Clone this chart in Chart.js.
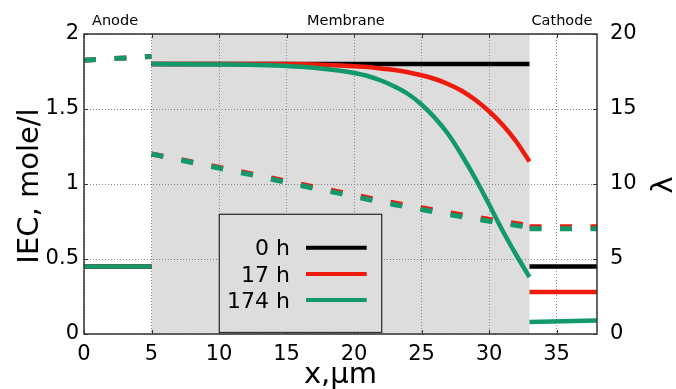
<!DOCTYPE html>
<html>
<head>
<meta charset="utf-8">
<script src="https://cdn.jsdelivr.net/npm/chart.js@4.4.1/dist/chart.umd.min.js"></script>
<style>
  html, body { margin: 0; padding: 0; background: #ffffff; }
  #wrap { width: 676px; height: 389px; }
</style>
</head>
<body>
<div id="wrap"><canvas id="c" width="676" height="389"></canvas></div>
<script>
// ---------- data ----------
const seriesNames = ['0 h', '17 h', '174 h'];
const regionLabels = ['Anode', 'Membrane', 'Cathode'];
const xTicks = [0, 5, 10, 15, 20, 25, 30, 35];
const iecTicks = [0, 0.5, 1, 1.5, 2];
const lambdaTicks = [0, 5, 10, 15, 20];

// x positions (µm)
const xAnode = [0, 5];
const xCathode = [33, 38];
const xMembraneIEC = [5, 10, 12, 14, 15, 17, 19, 20, 21, 22, 23, 24, 25, 26, 27, 28, 29, 30, 31, 32, 33];
const xMembraneLambda = [5, 7, 9, 11, 13, 15, 17, 19, 21, 23, 25, 27, 29, 31, 33];

// IEC, mole/l (left axis)
const iec0hAnode = [0.45, 0.45];
const iec0hMembrane = [1.8, 1.8, 1.8, 1.8, 1.8, 1.8, 1.8, 1.8, 1.8, 1.8, 1.8, 1.8, 1.8, 1.8, 1.8, 1.8, 1.8, 1.8, 1.8, 1.8, 1.8];
const iec0hCathode = [0.45, 0.45];

const iec17hAnode = [0.45, 0.45];
const iec17hMembrane = [1.80, 1.80, 1.80, 1.80, 1.80, 1.797, 1.79, 1.785, 1.78, 1.77, 1.76, 1.745, 1.725, 1.70, 1.665, 1.62, 1.56, 1.485, 1.395, 1.285, 1.15];
const iec17hCathode = [0.28, 0.28];

const iec174hAnode = [0.45, 0.45];
const iec174hMembrane = [1.80, 1.797, 1.795, 1.79, 1.787, 1.775, 1.755, 1.74, 1.72, 1.69, 1.65, 1.60, 1.53, 1.44, 1.33, 1.19, 1.035, 0.865, 0.69, 0.53, 0.38];
const iec174hCathode = [0.08, 0.09];

// lambda (right axis)
const lambda17hAnode = [18.25, 18.5];
const lambda17hMembrane = [12.0, 11.65, 11.3, 10.93, 10.57, 10.18, 9.81, 9.46, 9.09, 8.74, 8.42, 8.09, 7.79, 7.5, 7.22];
const lambda17hCathode = [7.15, 7.15];

const lambda174hAnode = [18.25, 18.5];
const lambda174hMembrane = [12.0, 11.62, 11.25, 10.87, 10.5, 10.1, 9.72, 9.36, 8.98, 8.62, 8.3, 7.97, 7.67, 7.38, 7.1];
const lambda174hCathode = [7.02, 7.02];

// ---------- styling ----------
const COLORS = ['#000000', '#ee1a0e', '#12996b'];
const FONT = 'DejaVu Sans';
const DASH = [12, 18.5];

function pts(xs, ys) { return xs.map((x, i) => ({ x: x, y: ys[i] })); }
function solid(xs, ys, ci) {
  return { data: pts(xs, ys), borderColor: COLORS[ci], borderWidth: 4.5, pointRadius: 0,
           fill: false, cubicInterpolationMode: 'monotone', yAxisID: 'y', borderCapStyle: 'butt' };
}
function dashed(xs, ys, ci) {
  return { data: pts(xs, ys), borderColor: COLORS[ci], borderWidth: 5, pointRadius: 0,
           fill: false, cubicInterpolationMode: 'monotone', yAxisID: 'y2', borderDash: DASH, borderCapStyle: 'butt' };
}

const datasets = [
  solid(xAnode, iec0hAnode, 0), solid(xMembraneIEC, iec0hMembrane, 0), solid(xCathode, iec0hCathode, 0),
  solid(xAnode, iec17hAnode, 1), solid(xMembraneIEC, iec17hMembrane, 1), solid(xCathode, iec17hCathode, 1),
  dashed(xAnode, lambda17hAnode, 1), dashed(xMembraneLambda, lambda17hMembrane, 1), dashed(xCathode, lambda17hCathode, 1),
  solid(xAnode, iec174hAnode, 2), solid(xMembraneIEC, iec174hMembrane, 2), solid(xCathode, iec174hCathode, 2),
  dashed(xAnode, lambda174hAnode, 2), dashed(xMembraneLambda, lambda174hMembrane, 2), dashed(xCathode, lambda174hCathode, 2)
];
// draw order: later datasets on top
datasets.forEach((d, i) => { d.order = datasets.length - i; });

const decor = {
  id: 'decor',
  beforeDraw(chart) {
    const { ctx, chartArea: a, scales } = chart;
    ctx.save();
    ctx.fillStyle = '#ffffff';
    ctx.fillRect(0, 0, chart.width, chart.height);
    const x0 = scales.x.getPixelForValue(5), x1 = scales.x.getPixelForValue(33);
    ctx.fillStyle = '#dddddd';
    ctx.fillRect(x0, a.top, x1 - x0, a.bottom - a.top);
    ctx.restore();
  },
  afterDatasetsDraw(chart) {
    const { ctx, chartArea: a, scales } = chart;
    ctx.save();
    // frame
    ctx.strokeStyle = '#333333';
    ctx.lineWidth = 1.5;
    ctx.strokeRect(a.left, a.top, a.right - a.left, a.bottom - a.top);
    // inward ticks
    ctx.lineWidth = 1;
    ctx.beginPath();
    xTicks.forEach(v => {
      const p = Math.round(scales.x.getPixelForValue(v)) + 0.5;
      ctx.moveTo(p, a.bottom); ctx.lineTo(p, a.bottom - 4);
      ctx.moveTo(p, a.top); ctx.lineTo(p, a.top + 4);
    });
    iecTicks.forEach(v => {
      const p = Math.round(scales.y.getPixelForValue(v)) + 0.5;
      ctx.moveTo(a.left, p); ctx.lineTo(a.left + 4, p);
    });
    lambdaTicks.forEach(v => {
      const p = Math.round(scales.y2.getPixelForValue(v)) + 0.5;
      ctx.moveTo(a.right, p); ctx.lineTo(a.right - 4, p);
    });
    ctx.stroke();

    // legend
    const bx = a.left + 135.3, by = a.top + 180.3, bw = 162.4, bh = 118.2;
    ctx.fillStyle = '#dddddd';
    ctx.fillRect(bx, by, bw, bh);
    ctx.strokeStyle = '#333333';
    ctx.lineWidth = 1.3;
    ctx.strokeRect(bx, by, bw, bh);
    ctx.font = '22px "' + FONT + '"';
    ctx.textAlign = 'right';
    ctx.textBaseline = 'alphabetic';
    const rowText = [40.7, 67.4, 93.6];
    const rowLine = [33.4, 59.7, 85.8];
    seriesNames.forEach((name, i) => {
      ctx.fillStyle = '#000000';
      ctx.fillText(name, bx + 70.7, by + rowText[i]);
      ctx.strokeStyle = COLORS[i];
      ctx.lineWidth = 4;
      ctx.beginPath();
      ctx.moveTo(bx + 86.7, by + rowLine[i]);
      ctx.lineTo(bx + 147.4, by + rowLine[i]);
      ctx.stroke();
    });

    // region labels
    ctx.fillStyle = '#000000';
    ctx.font = '14.5px "' + FONT + '"';
    ctx.textAlign = 'center';
    const regionCenters = [2.3, 19.4, 35.4];
    regionLabels.forEach((t, i) => {
      ctx.fillText(t, scales.x.getPixelForValue(regionCenters[i]), 25);
    });

    // axis titles
    ctx.font = '29px "' + FONT + '"';
    ctx.textAlign = 'center';
    ctx.textBaseline = 'alphabetic';
    ctx.fillText('x,µm', (a.left + a.right) / 2, 383);
    ctx.save();
    ctx.translate(37.5, (a.top + a.bottom) / 2 + 2);
    ctx.rotate(-Math.PI / 2);
    ctx.fillText('IEC, mole/l', 0, 0);
    ctx.restore();
    ctx.save();
    ctx.translate(672, (a.top + a.bottom) / 2 + 1);
    ctx.rotate(-Math.PI / 2);
    ctx.fillText('λ', 0, 0);
    ctx.restore();
    ctx.restore();
  }
};

new Chart(document.getElementById('c'), {
  type: 'line',
  data: { datasets: datasets },
  plugins: [decor],
  options: {
    responsive: false,
    animation: false,
    events: [],
    layout: { padding: { top: 34, left: 0, right: 0, bottom: 0 } },
    plugins: { legend: { display: false }, tooltip: { enabled: false }, title: { display: false } },
    scales: {
      x: {
        type: 'linear', min: 0, max: 38,
        afterFit: s => { s.height = 55; },
        ticks: { stepSize: 5, includeBounds: false, color: '#000000', padding: 8,
                 font: { family: FONT, size: 21 }, maxRotation: 0, callback: v => String(v) },
        afterBuildTicks: s => { s.ticks = xTicks.map(v => ({ value: v })); },
        grid: { color: '#888888', lineWidth: 1, drawTicks: false },
        border: { display: false, dash: [1, 2] }
      },
      y: {
        type: 'linear', position: 'left', min: 0, max: 2,
        afterFit: s => { s.width = 84; },
        afterBuildTicks: s => { s.ticks = iecTicks.map(v => ({ value: v })); },
        ticks: { color: '#000000', padding: 5, font: { family: FONT, size: 21 }, callback: v => String(v) },
        grid: { color: '#888888', lineWidth: 1, drawTicks: false },
        border: { display: false, dash: [1, 2] }
      },
      y2: {
        type: 'linear', position: 'right', min: 0, max: 20,
        afterFit: s => { s.width = 79; },
        afterBuildTicks: s => { s.ticks = lambdaTicks.map(v => ({ value: v })); },
        ticks: { color: '#000000', padding: 13, font: { family: FONT, size: 21 }, callback: v => String(v) },
        grid: { display: false, drawTicks: false },
        border: { display: false }
      }
    }
  }
});
</script>
</body>
</html>
